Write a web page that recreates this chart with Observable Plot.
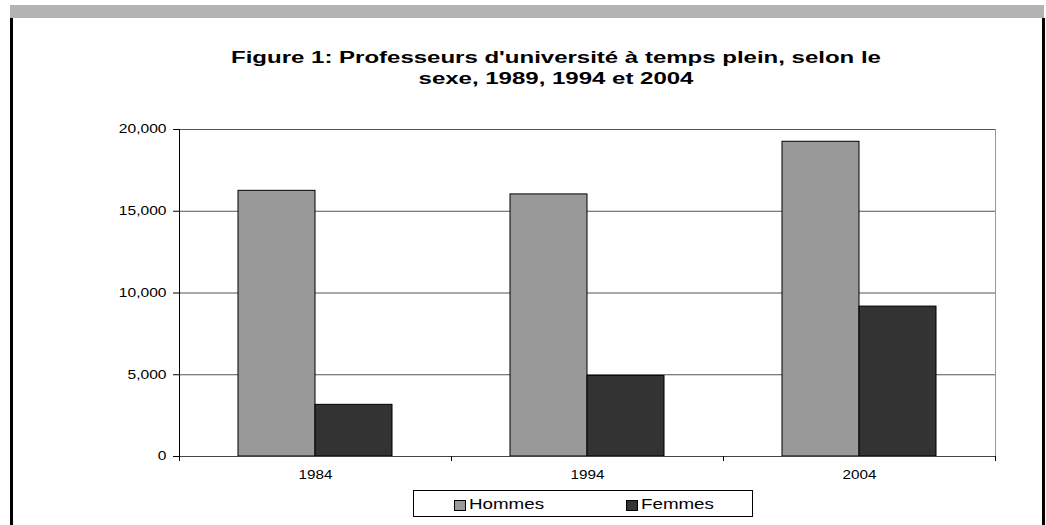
<!DOCTYPE html>
<html>
<head>
<meta charset="utf-8">
<script src="https://cdn.jsdelivr.net/npm/d3@7"></script>
<script src="https://cdn.jsdelivr.net/npm/@observablehq/plot@0.6"></script>
<style>
  html, body { margin: 0; padding: 0; background: #fff; }
  body { width: 1046px; height: 525px; position: relative; overflow: hidden; font-family: "Liberation Sans", Arial, sans-serif; color: #000; }
  #topbar { position: absolute; left: 10px; top: 5px; width: 1034px; height: 13px; background: #b3b3b3; }
  #lborder { position: absolute; left: 10px; top: 18px; width: 3px; height: 520px; background: #000; }
  #rborder { position: absolute; left: 1042px; top: 18px; width: 3px; height: 520px; background: #000; }
  #title { position: absolute; left: 556px; top: 47px; font-weight: bold; font-size: 16px; line-height: 21px;
           text-align: center; white-space: nowrap; transform: translateX(-50%) scaleX(1.5); transform-origin: 50% 50%; }
  #chart { position: absolute; left: 0; top: 0; }
  #legend { position: absolute; left: 413px; top: 490px; width: 340px; height: 27px; box-sizing: border-box; border: 1px solid #000; background: #fff; }
  .sw { position: absolute; top: 9px; width: 12px; height: 11px; box-sizing: border-box; border: 1px solid #000; }
  .lt { position: absolute; top: 3px; font-size: 15px; line-height: 20px; white-space: nowrap; transform: scaleX(1.25); transform-origin: 0 50%; }
</style>
</head>
<body>
<div id="topbar"></div>
<div id="lborder"></div>
<div id="rborder"></div>
<div id="title">Figure 1: Professeurs d'université à temps plein, selon le<br>sexe, 1989, 1994 et 2004</div>
<div id="chart"></div>
<div id="legend"></div>
<script>
// ---- data ----
const years = ["1984", "1994", "2004"];
const series = ["Hommes", "Femmes"];
const hommes = [16250, 16030, 19250];
const femmes = [3160, 4930, 9170];
const yTicks = [0, 5000, 10000, 15000, 20000];
const colors = ["#999999", "#333333"];

const rows = [];
years.forEach((yr, i) => {
  rows.push({year: yr, sex: series[0], value: hommes[i]});
  rows.push({year: yr, sex: series[1], value: femmes[i]});
});

const plot = Plot.plot({
  width: 1046,
  height: 490,
  marginTop: 129,
  marginLeft: 179,
  marginRight: 51,
  marginBottom: 34,
  style: {fontFamily: "'Liberation Sans', Arial, sans-serif", fontSize: "12px", color: "#000", background: "transparent"},
  fx: {domain: years, paddingInner: 0, paddingOuter: 0, axis: null, label: null},
  x: {domain: series, paddingInner: 0, paddingOuter: 0.744, axis: null, label: null},
  y: {domain: [0, 20000], axis: null, label: null},
  color: {domain: series, range: colors},
  marks: [
    Plot.ruleY(yTicks.filter(d => d > 0), {stroke: "#555", strokeWidth: 1}),
    Plot.barY(rows, {fx: "year", x: "sex", y: "value", fill: "sex", stroke: "#000", strokeWidth: 1}),
    Plot.axisY({ticks: yTicks, tickFormat: d3.format(","), tickSize: 6, tickPadding: 7, label: null, stroke: "#000", fontSize: 12}),
    Plot.axisFx({anchor: "bottom", tickSize: 0, tickPadding: 14, label: null, fontSize: 12})
  ]
});
document.getElementById("chart").appendChild(plot);

// stretch tick labels horizontally to match the reference
const svg = d3.select(plot);
svg.selectAll('g[aria-label="y-axis tick label"] text').each(function() {
  const t = this.getAttribute("transform") || "";
  this.setAttribute("transform", t + " scale(1.3,1)");
});
svg.selectAll('g[aria-label="fx-axis tick label"] text').each(function() {
  const t = this.getAttribute("transform") || "";
  this.setAttribute("transform", t + " scale(1.27,1)");
});

// frame lines and category boundary ticks, placed through Plot's scales
const ys = plot.scale("y");
const fxs = plot.scale("fx");
const y0 = ys.apply(0), yTop = ys.apply(20000);
const xL = fxs.apply(years[0]);
const xR = fxs.apply(years[years.length - 1]) + fxs.bandwidth;
const g = svg.append("g").attr("shape-rendering", "crispEdges");
g.append("line").attr("x1", xR + 0.5).attr("x2", xR + 0.5).attr("y1", yTop).attr("y2", y0).attr("stroke", "#999");
g.append("line").attr("x1", xL).attr("x2", xR + 1).attr("y1", y0 + 0.5).attr("y2", y0 + 0.5).attr("stroke", "#444");
g.append("line").attr("x1", xL + 0.5).attr("x2", xL + 0.5).attr("y1", yTop).attr("y2", y0 + 1).attr("stroke", "#000");
const bounds = years.map(yr => fxs.apply(yr)).concat([xR]);
bounds.forEach(b => {
  g.append("line").attr("x1", b + 0.5).attr("x2", b + 0.5).attr("y1", y0).attr("y2", y0 + 5).attr("stroke", "#000");
});

// legend
const legend = document.getElementById("legend");
const swLeft = [40, 212];
series.forEach((s, i) => {
  const sw = document.createElement("div");
  sw.className = "sw";
  sw.style.left = swLeft[i] + "px";
  sw.style.background = colors[i];
  legend.appendChild(sw);
  const lt = document.createElement("div");
  lt.className = "lt";
  lt.style.left = (swLeft[i] + 15) + "px";
  lt.textContent = s;
  legend.appendChild(lt);
});
</script>
</body>
</html>
